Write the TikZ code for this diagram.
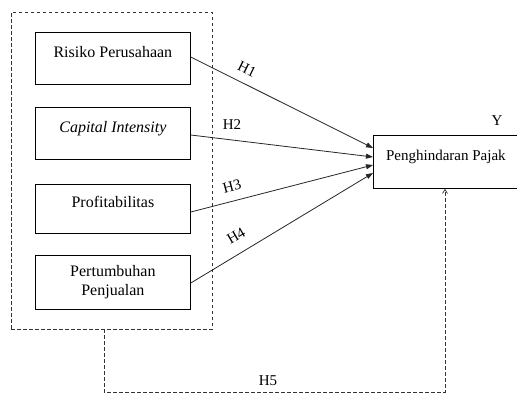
\documentclass[tikz,border=0pt]{standalone}
\usepackage{fontspec}
\setmainfont{Liberation Serif}
\usetikzlibrary{arrows.meta}
\begin{document}
\begin{tikzpicture}[x=1pt,y=-1pt,
  varbox/.style={draw, line width=0.8pt, minimum width=155pt, minimum height=52pt, inner sep=0pt, font=\fontsize{16}{19}\selectfont, align=center},
  upper/.style={text height=10pt, text depth=12pt},
  link/.style={line width=0.8pt, draw=black!85, -{Triangle[length=7pt,width=5pt]}},
  dashline/.style={line width=0.7pt, draw=black!80, dash pattern=on 3.5pt off 2.5pt},
  hlabel/.style={font=\fontsize{15}{17}\selectfont, inner sep=0pt}]
\useasboundingbox (0,0) rectangle (517,394);
\node[draw, dashline, minimum width=201pt, minimum height=317pt, inner sep=0pt] (group) at (111.5,170.5) {};
\node[varbox, upper, anchor=north west] (x1) at (35,32) {Risiko Perusahaan};
\node[varbox, upper, anchor=north west] (x2) at (35,107) {\itshape Capital Intensity};
\node[varbox, upper, anchor=north west, minimum height=49pt] (x3) at (35,184) {Profitabilitas};
\node[varbox, anchor=north west, minimum height=54pt] (x4) at (35,255) {Pertumbuhan\\Penjualan};
\node[varbox, upper, anchor=north west, minimum width=145pt, minimum height=53pt, font=\fontsize{15}{17}\selectfont] (y) at (373,135) {Penghindaran Pajak};
\node[hlabel] (ylab) at (497,121) {Y};
\coordinate (t1) at (373,148);
\coordinate (t2) at (373,157);
\coordinate (t3) at (373,165);
\coordinate (t4) at (373,173);
\draw[link] (x1.east |- 0,57) -- (t1);
\draw[link] (x2.east |- 0,135) -- (t2);
\draw[link] (x3.east |- 0,212) -- (t3);
\draw[link] (x4.east |- 0,283) -- (t4);
\node[hlabel, rotate=-26] (h1) at (247,69) {H1};
\node[hlabel] (h2) at (232,125) {H2};
\node[hlabel, rotate=15] (h3) at (232,186) {H3};
\node[hlabel, rotate=30] (h4) at (236,236) {H4};
\coordinate (c1) at (104,392);
\coordinate (c2) at (445,392);
\draw[dashline, -{Straight Barb[length=4pt,width=5pt]}] (group.south -| c1) -- (c1) -- (c2) -- (c2 |- y.south);
\node[hlabel] (h5) at (268,381) {H5};
\end{tikzpicture}
\end{document}
